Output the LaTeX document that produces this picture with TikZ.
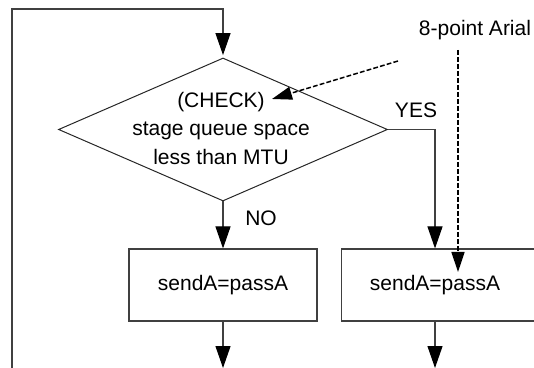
\documentclass[tikz,border=0pt]{standalone}
\usepackage{fontspec}
\setmainfont{Liberation Sans}
\usepackage{tikz}
\usetikzlibrary{positioning,arrows.meta,shapes.geometric}

\tikzset{
    flowline/.style={draw=black!75, line width=0.55pt, -{Triangle[length=11pt,width=7.5pt,black]}},
    noteline/.style={draw=black, line width=0.75pt, dash pattern=on 2.4pt off 1.1pt, -{Triangle[length=10pt,width=6.5pt,black]}},
    procbox/.style={draw=black!75, line width=0.55pt, minimum width=94pt, minimum height=36pt, inner sep=0pt},
    decision/.style={diamond, draw=black!85, line width=0.5pt, minimum width=164.5pt, minimum height=71.5pt, inner sep=0pt},
    txt/.style={font=\fontsize{10.5}{14.25}\selectfont, inner sep=0pt},
}

\begin{document}
\begin{tikzpicture}[x=0.5pt, y=-0.5pt]

    % 1 unit = 1 pixel of the sketch, y downwards
    \useasboundingbox (0,0) rectangle (534,368);
    \clip (0,0) rectangle (534,368);

    % =========================================================================
    % DECISION
    % =========================================================================
    \node[decision] (check) at (223,129.5) {};
    \node[txt, align=center] (checktxt) at (221,128) {(CHECK)\\stage queue space\\less than MTU};

    % =========================================================================
    % BOXES
    % =========================================================================
    \node[procbox, txt, minimum width=94pt, minimum height=36pt] (passno) at (223,285) {sendA=passA};
    \node[procbox, minimum width=120pt, anchor=west] (passyes) at (341,285) {};
    \node[txt] (passyestxt) at (435,285) {sendA=passA};

    % =========================================================================
    % CONNECTORS
    % =========================================================================
    \coordinate (loopbot) at (12,372);
    \coordinate (looptop) at (12,9);
    \coordinate (yesturn) at (435,129);
    \coordinate (noout) at (223,368);
    \coordinate (yesout) at (435,368);

    % Retour du haut
    \draw[flowline, shorten >=1.2pt] (loopbot) -- (looptop) -| (check.north);

    % Branches
    \draw[flowline] (check.south) -- (passno.north);
    \draw[flowline] (check.east) -| (yesturn |- passyes.north);

    % Sorties
    \draw[flowline] (passno.south) -- (noout);
    \draw[flowline] (passno.south -| yesout) -- (yesout);

    \node[txt, anchor=base] (nolbl) at (261,226) {NO};
    \node[txt, anchor=base] (yeslbl) at (416,118) {YES};

    % =========================================================================
    % ANNOTATION
    % =========================================================================
    \node[txt, anchor=base] (note) at (475,36) {8-point Arial};

    \coordinate (noteA) at (398,61);
    \coordinate (noteAtip) at (272,99);
    \coordinate (noteB) at (458,50);
    \coordinate (noteBtip) at (458,272);

    \draw[noteline] (noteA) -- (noteAtip);
    \draw[noteline] (noteB) -- (noteBtip);

\end{tikzpicture}
\end{document}
